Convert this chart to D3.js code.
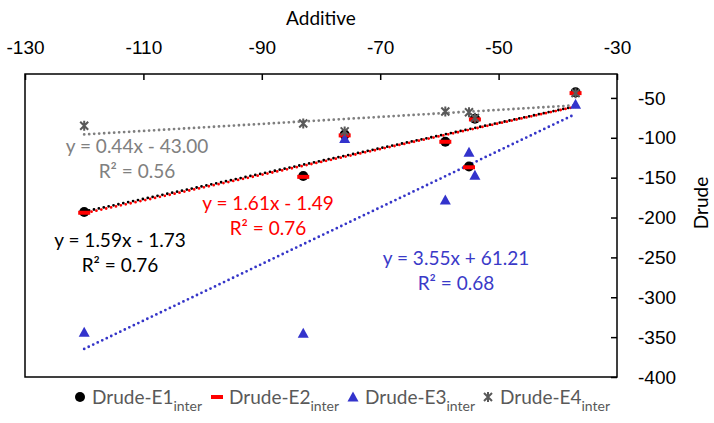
<!DOCTYPE html>
<html>
<head>
<meta charset="utf-8">
<script src="https://cdn.jsdelivr.net/npm/d3@7"></script>
<style>
  body { margin: 0; background: #fff; }
  svg { display: block; font-family: Lato, "Open Sans", sans-serif; }
</style>
</head>
<body>
<div id="chart"></div>
<script>
// shared x values (Additive)
const additive = [-120, -83, -76, -59, -55, -54, -37];

// Drude values per series
const drudeE1 = [-193, -148, -96, -105, -136, -76, -43];
const drudeE2 = [-194, -149, -97, -105, -137, -77, -44];
const drudeE3 = [-344, -345, -101, -178, -118, -147, -58];
const drudeE4 = [-85, -82, -92, -67, -68, -75, -44];

const seriesNames = ['Drude-E1', 'Drude-E2', 'Drude-E3', 'Drude-E4'];
const trendSlopes = [1.59, 1.61, 3.55, 0.44];
const trendIntercepts = [-1.73, -1.49, 61.21, -43.00];
const trendR2 = [0.76, 0.76, 0.68, 0.56];

const xTicks = [-130, -110, -90, -70, -50, -30];
const yTicks = [-50, -100, -150, -200, -250, -300, -350, -400];

const width = 714;
const height = 423;
const margin = { top: 74, right: 97, bottom: 46, left: 25 };

const svg = d3.select('#chart')
  .append('svg')
  .attr('width', width)
  .attr('height', height);

const x = d3.scaleLinear().domain([-130, -30]).range([margin.left, width - margin.right]);
const y = d3.scaleLinear().domain([-400, -20]).range([height - margin.bottom, margin.top]);

const colors = ['#000000', '#ff0000', '#3535c8', '#7f7f7f'];
const markerColors = ['#000000', '#ff0000', '#3333cc', '#595959'];
const labelColors = ['#000000', '#ff0000', '#3a3ac8', '#808080'];
const plainNum = d => String(d); // keep ascii hyphen like the original

// frame
svg.append('rect')
  .attr('x', x(-130))
  .attr('y', y(-20))
  .attr('width', x(-30) - x(-130))
  .attr('height', y(-400) - y(-20))
  .attr('fill', 'none')
  .attr('stroke', '#000')
  .attr('stroke-width', 1.5);

// top x axis, ticks inward
const xAxis = svg.append('g')
  .attr('transform', `translate(0,${y(-20)})`)
  .call(d3.axisTop(x).tickValues(xTicks).tickSize(-6).tickPadding(20).tickFormat(plainNum));
xAxis.select('.domain').remove();
xAxis.selectAll('line').attr('stroke', '#000').attr('stroke-width', 1.5);
xAxis.selectAll('text').attr('font-size', 19).attr('fill', '#000').attr('font-family', null);

// right y axis, ticks inward
const yAxis = svg.append('g')
  .attr('transform', `translate(${x(-30)},0)`)
  .call(d3.axisRight(y).tickValues(yTicks).tickSize(-6).tickPadding(21).tickFormat(plainNum));
yAxis.select('.domain').remove();
yAxis.selectAll('line').attr('stroke', '#000').attr('stroke-width', 1.5);
yAxis.selectAll('text').attr('font-size', 19).attr('fill', '#000').attr('font-family', null);

svg.append('text')
  .attr('x', (x(-130) + x(-30)) / 2)
  .attr('y', 25)
  .attr('text-anchor', 'middle')
  .attr('font-size', 19)
  .text('Additive');

svg.append('text')
  .attr('transform', `translate(708,203) rotate(-90)`)
  .attr('text-anchor', 'middle')
  .attr('font-size', 19)
  .text('Drude');

// trendlines
const xExtent = d3.extent(additive);
const trendLine = d3.line().x(d => x(d[0])).y(d => y(d[1]));
trendSlopes.forEach((m, i) => {
  const pts = xExtent.map(v => [v, m * v + trendIntercepts[i]]);
  svg.append('path')
    .attr('d', trendLine(pts))
    .attr('fill', 'none')
    .attr('stroke', colors[i])
    .attr('stroke-width', 2.8)
    .attr('stroke-linecap', 'round')
    .attr('stroke-dasharray', '0,5')
    .attr('stroke-dashoffset', i === 1 ? 2.5 : 0);
});

// markers
const symbols = {
  circle: 'M0,-5A5,5 0 1,1 0,5A5,5 0 1,1 0,-5Z',
  dash: 'M-6,-2H6V2H-6Z',
  triangle: 'M0,-5.5L5.5,4.5H-5.5Z',
  star: 'M-4,-4L4,4M-4,4L4,-4M0,-5V5'
};
const seriesData = [drudeE1, drudeE2, drudeE3, drudeE4];
const symbolKeys = ['circle', 'dash', 'triangle', 'star'];

seriesData.forEach((vals, i) => {
  const pts = additive.map((a, j) => [a, vals[j]]);
  const g = svg.append('g');
  g.selectAll('path')
    .data(pts)
    .enter()
    .append('path')
    .attr('transform', d => `translate(${x(d[0])},${y(d[1])})`)
    .attr('d', symbols[symbolKeys[i]])
    .attr('fill', symbolKeys[i] === 'star' ? 'none' : markerColors[i])
    .attr('stroke', symbolKeys[i] === 'star' ? markerColors[i] : 'none')
    .attr('stroke-width', 2);
});

// trendline equation labels
const labelPos = [
  { x: 120, y: 240 },
  { x: 268, y: 203 },
  { x: 456, y: 258 },
  { x: 137, y: 146 }
];
trendSlopes.forEach((m, i) => {
  const b = trendIntercepts[i];
  const eq = `y = ${m.toFixed(2)}x ${b < 0 ? '-' : '+'} ${Math.abs(b).toFixed(2)}`;
  const t = svg.append('text')
    .attr('text-anchor', 'middle')
    .attr('font-size', 19)
    .attr('fill', labelColors[i]);
  t.append('tspan').attr('x', labelPos[i].x).attr('y', labelPos[i].y + 7).text(eq);
  t.append('tspan').attr('x', labelPos[i].x).attr('y', labelPos[i].y + 32).text(`R\u00b2 = ${trendR2[i].toFixed(2)}`);
});

// legend
const legendX = [80, 217, 353, 488];
seriesNames.forEach((name, i) => {
  svg.append('path')
    .attr('transform', `translate(${legendX[i]},397)`)
    .attr('d', symbols[symbolKeys[i]])
    .attr('fill', symbolKeys[i] === 'star' ? 'none' : markerColors[i])
    .attr('stroke', symbolKeys[i] === 'star' ? markerColors[i] : 'none')
    .attr('stroke-width', 2);
  const t = svg.append('text')
    .attr('x', legendX[i] + 12)
    .attr('y', 404)
    .attr('font-size', 19)
    .attr('fill', '#595959');
  t.append('tspan').text(name);
  t.append('tspan').attr('dy', 7).attr('font-size', 14).text('inter');
});
</script>
</body>
</html>
